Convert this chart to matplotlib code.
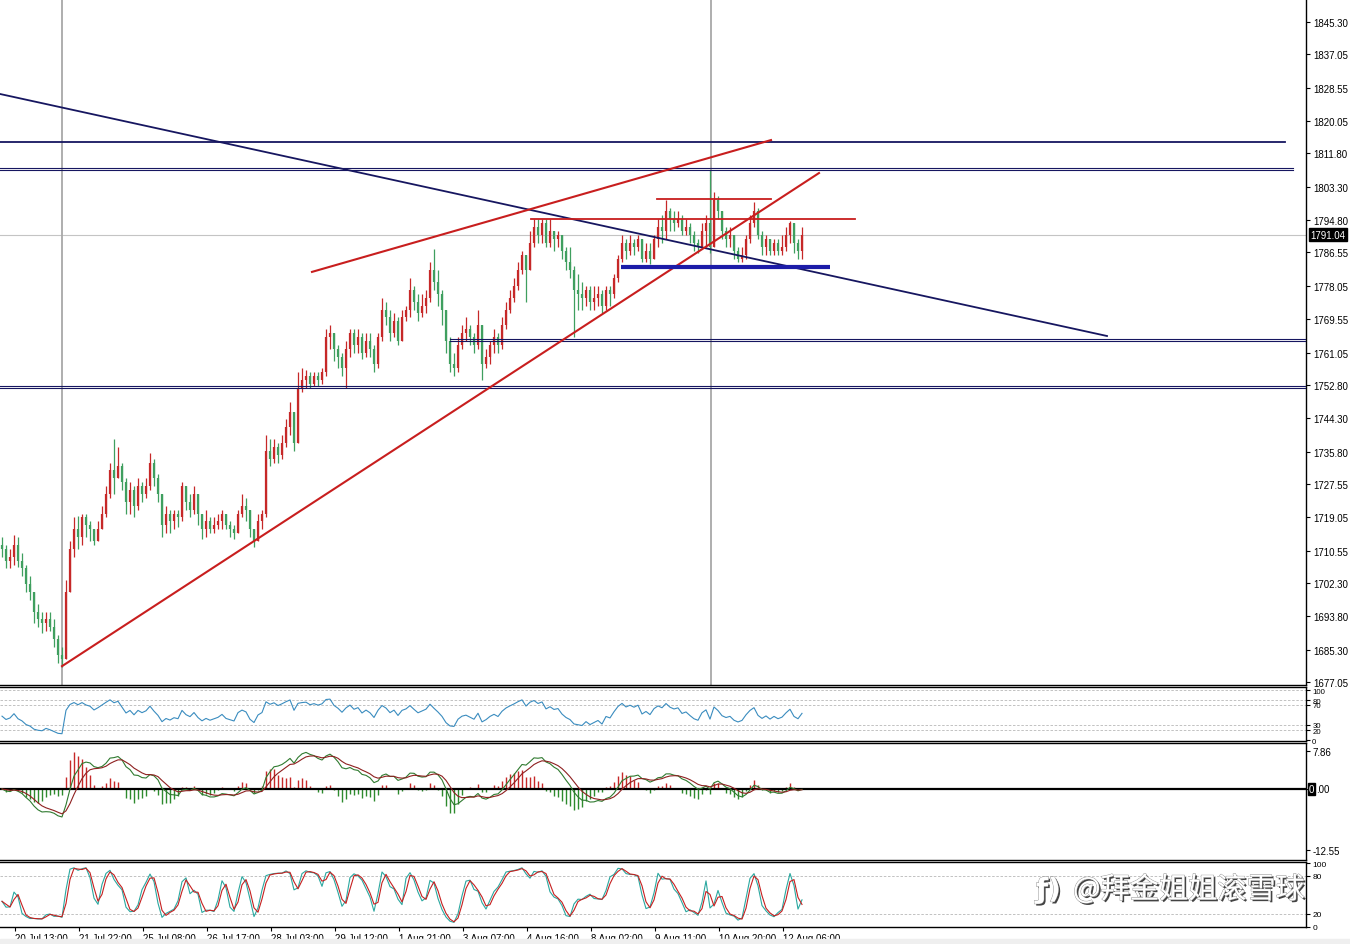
import numpy as np
import pandas as pd
import matplotlib
matplotlib.use("Agg")
import matplotlib.pyplot as plt
import matplotlib.patheffects as pe
from matplotlib.patches import Rectangle

plt.rcParams['font.family'] = ['Liberation Sans', 'Noto Sans CJK SC', 'DejaVu Sans']

# ---------------- data (2-hour bars) ----------------
first_open = 1712.0
closes = [
    1711, 1708, 1709, 1712, 1708, 1706, 1702, 1700, 1695, 1693,
    1692, 1693, 1691, 1688, 1684, 1683, 1700, 1711, 1716, 1714,
    1719, 1717, 1716, 1713, 1716, 1720, 1725, 1731, 1729, 1732,
    1728, 1723, 1726, 1722, 1727, 1725, 1727, 1733, 1729, 1725,
    1717, 1720, 1718, 1720, 1719, 1727, 1723, 1721, 1725, 1720,
    1716, 1718, 1716, 1717, 1718, 1720, 1717, 1716, 1715, 1720,
    1722, 1721, 1716, 1713, 1718, 1720, 1736, 1734, 1737, 1735,
    1738, 1742, 1746, 1738, 1752, 1754, 1755, 1753, 1755, 1754,
    1756, 1765, 1766, 1762, 1760, 1757, 1762, 1766, 1763, 1765,
    1761, 1764, 1762, 1758, 1765, 1772, 1770, 1766, 1769, 1764,
    1770, 1772, 1777, 1774, 1771, 1773, 1775, 1782, 1779, 1776,
    1772, 1764, 1758, 1757, 1763, 1766, 1767, 1765, 1763, 1768,
    1758, 1760, 1763, 1765, 1763, 1768, 1772, 1775, 1778, 1782,
    1786, 1782, 1789, 1793, 1791, 1794, 1789, 1792, 1790, 1791,
    1787, 1784, 1782, 1777, 1776, 1775, 1777, 1774, 1775, 1776,
    1773, 1777, 1776, 1780, 1785, 1789, 1787, 1789, 1788, 1790,
    1785, 1787, 1785, 1790, 1793, 1792, 1797, 1795, 1794, 1795,
    1792, 1793, 1791, 1789, 1788, 1792, 1794, 1788, 1800, 1797,
    1792, 1790, 1791, 1787, 1785, 1786, 1790, 1794, 1797, 1791,
    1788, 1790, 1787, 1789, 1787, 1788, 1791, 1794, 1789, 1787,
    1791.04,
]
highs = [
    1714, 1712, 1711, 1714.5, 1714, 1710, 1707, 1704, 1700, 1697,
    1695, 1695, 1695, 1693, 1689, 1686, 1703, 1713, 1719, 1719.5,
    1720, 1720, 1718, 1716, 1718, 1722, 1727, 1733, 1739, 1737,
    1733, 1729, 1728, 1727, 1729, 1728, 1729, 1735.5, 1734, 1730,
    1725, 1722, 1721, 1721, 1721, 1728, 1727, 1725, 1727, 1725,
    1720, 1721, 1719, 1719, 1720, 1721, 1719, 1718, 1717, 1721,
    1725, 1724, 1721, 1716, 1720, 1721, 1740, 1739, 1739, 1738,
    1740, 1744, 1748.5, 1746, 1756, 1757, 1756.5, 1756, 1756, 1756,
    1757, 1767, 1768, 1766, 1763, 1761, 1764, 1767, 1767, 1767,
    1766, 1766, 1766, 1763, 1766, 1775, 1774, 1772, 1771, 1770,
    1772, 1773, 1780, 1778, 1776, 1776, 1777, 1784, 1787.5, 1782,
    1777, 1771, 1765, 1761, 1765, 1768, 1770, 1768, 1766, 1772,
    1768, 1762, 1764, 1767, 1766, 1770, 1774, 1777, 1780, 1784,
    1787, 1786, 1792, 1795, 1795, 1795, 1795, 1795, 1792, 1792,
    1791, 1788, 1788, 1783, 1781, 1779, 1778, 1778, 1778, 1778,
    1777, 1778, 1778, 1781, 1786, 1791, 1790, 1791, 1790, 1791,
    1790, 1789, 1789, 1791, 1795, 1796, 1800, 1798, 1797, 1797,
    1796, 1795, 1794, 1792, 1790, 1794, 1796, 1807.5, 1802, 1801,
    1797, 1793, 1793, 1791, 1788, 1788, 1791, 1796, 1799.5, 1798,
    1792, 1791, 1790, 1790, 1790, 1791, 1793, 1794.5, 1793, 1790,
    1793,
]
lows = [
    1709, 1706, 1706, 1707, 1706.5, 1704, 1700, 1698, 1692, 1691,
    1689.5, 1690, 1690, 1686, 1682, 1681, 1683, 1700, 1709, 1711,
    1712, 1714, 1713, 1712, 1713, 1716, 1719, 1724, 1725, 1729,
    1726, 1720, 1720, 1719, 1721, 1723, 1724, 1726, 1727, 1723,
    1714, 1715, 1715, 1716, 1716.5, 1718, 1721, 1719, 1720, 1717,
    1713.5, 1714, 1715, 1715, 1716, 1716, 1716, 1714, 1713.5, 1715,
    1719, 1718, 1714, 1711.5, 1713, 1716, 1719, 1732, 1733, 1733,
    1734, 1737, 1740, 1736, 1738, 1751, 1752, 1752, 1752.5, 1752.5,
    1753, 1755, 1762, 1759, 1757, 1755, 1752, 1760, 1761, 1761,
    1759.5, 1760, 1760, 1756, 1757, 1764, 1768, 1764, 1765, 1763,
    1764, 1769, 1770, 1772, 1769, 1770, 1771, 1774, 1777, 1773,
    1768, 1761, 1756, 1755, 1756, 1762, 1764, 1763, 1761, 1762,
    1754, 1757, 1758, 1761, 1761, 1762, 1767, 1771, 1774, 1777,
    1781, 1774, 1782, 1788, 1789, 1789, 1788, 1788, 1787, 1788,
    1785, 1782, 1780, 1765, 1772, 1772, 1773, 1772, 1772, 1773,
    1771, 1772, 1773, 1775, 1779, 1784, 1785, 1786, 1786, 1787,
    1784, 1784, 1783.5, 1785, 1788, 1789, 1790, 1792, 1792, 1793,
    1791, 1791, 1789, 1787, 1786.5, 1788, 1788, 1786.5, 1790, 1795,
    1790, 1788, 1788, 1785, 1784, 1784, 1785, 1789, 1793, 1790,
    1786, 1786, 1786, 1786, 1786, 1786, 1787, 1789, 1786.5, 1785,
    1785,
]
last_price = 1791.04

price_ticks = [1845.30, 1837.05, 1828.55, 1820.05, 1811.80, 1803.30, 1794.80,
               1786.55, 1778.05, 1769.55, 1761.05, 1752.80, 1744.30, 1735.80,
               1727.55, 1719.05, 1710.55, 1702.30, 1693.80, 1685.30, 1677.05]
macd_ticks = [7.86, 0.0, -12.55]
rsi_levels = [100, 80, 70, 30, 20, 0]
stoch_levels = [100, 80, 20, 0]
date_labels = ["20 Jul 13:00", "21 Jul 22:00", "25 Jul 08:00", "26 Jul 17:00",
               "28 Jul 03:00", "29 Jul 12:00", "1 Aug 21:00", "3 Aug 07:00",
               "4 Aug 16:00", "8 Aug 02:00", "9 Aug 11:00", "10 Aug 20:00",
               "12 Aug 06:00"]
date_pos = [15, 79, 143, 207, 271, 335, 399, 463, 527, 591, 655, 719, 783]

# drawing objects (x in chart pixels, y in price)
navy_trend = [(0, 1826.95), (1107, 1765.26)]
red_upper = [(312, 1781.6), (771, 1815.2)]
red_lower = [(62, 1681.1), (819, 1806.8)]
red_hlines = [(1795.1, 531, 855), (1800.2, 657, 771)]
blue_support = (1782.85, 621, 830)
navy_single = (1814.7, 0, 1285)
navy_double = [(1807.85, 0, 1293), (1764.25, 450, 1306), (1752.25, 0, 1306)]
vlines_gray = [62, 711]

# ---------------- derived ----------------
c = np.array(closes, float)
h = np.array(highs, float)
l = np.array(lows, float)
o = np.concatenate([[first_open], c[:-1]])
h = np.maximum(h, np.maximum(o, c))
l = np.minimum(l, np.minimum(o, c))
n = len(c)
xs = 2 + 4 * np.arange(n)
up = c >= o
RED = '#c62828'
GRN = '#3f9f5f'
cols = [RED if u else GRN for u in up]

# RSI (Wilder, period 7 on 2-hour bars), seeded with neutral averages
chg = np.diff(np.concatenate([[first_open], c]))
seed = np.mean(np.abs(chg)) / 2
ru, rd = seed, seed
rsi = np.empty(n)
for i, ch in enumerate(chg):
    ru = (ru * 6 + max(ch, 0)) / 7
    rd = (rd * 6 + max(-ch, 0)) / 7
    rsi[i] = 100 - 100 / (1 + ru / rd) if rd > 0 else 100

cs = pd.Series(c)
ema_f = cs.ewm(span=6, adjust=False).mean()
ema_s = cs.ewm(span=13, adjust=False).mean()
dif = ema_f - ema_s
dea = dif.ewm(span=5, adjust=False).mean()
hist = 2 * (dif - dea)

hs, ls = pd.Series(h), pd.Series(l)
kp = 5
hh = hs.rolling(kp, min_periods=1).max()
ll = ls.rolling(kp, min_periods=1).min()
num = (cs - ll).rolling(2, min_periods=1).sum()
den = (hh - ll).rolling(2, min_periods=1).sum()
stk = (100 * num / den).fillna(50)
std = stk.rolling(2, min_periods=1).mean()

# ---------------- figure ----------------
W, H = 1350, 945
fig = plt.figure(figsize=(W / 100, H / 100), dpi=100)
fig.patch.set_facecolor('white')
fig.patches.append(Rectangle((0, 0), 1, 5 / H, transform=fig.transFigure,
                             color='#efefef', zorder=0))
R = 1306 / W

def add_ax(top_px, bot_px):
    return fig.add_axes([0, 1 - bot_px / H, R, (bot_px - top_px) / H])

ax = add_ax(0, 686)
axr = add_ax(688, 742)
axm = add_ax(744, 861)
axs = add_ax(863, 928)

TICKFS = 7.0
for a in (ax, axr, axm, axs):
    a.set_xlim(0, 1306)
    a.yaxis.tick_right()
    a.tick_params(axis='y', direction='out', length=3, width=0.8, pad=2,
                  labelsize=TICKFS, colors='black')
    a.tick_params(axis='x', length=0, labelbottom=False)
    for s in a.spines.values():
        s.set_color('black')
        s.set_linewidth(1.0)
    a.spines['left'].set_visible(False)
    a.set_facecolor('white')

ax.spines['top'].set_visible(False)

# main chart
ax.set_ylim(1676.3, 1851.16)
ax.set_yticks(price_ticks)
ax.set_yticklabels([f"{v:.2f}" for v in price_ticks])
ax.axhline(last_price, color='#c4c4c4', lw=0.8, zorder=1)
for vx in vlines_gray:
    ax.axvline(vx, color='#a8a8a8', lw=1.3, zorder=1)

ax.vlines(xs, l, h, colors=cols, lw=0.9, zorder=3)
ax.vlines(xs, np.minimum(o, c), np.maximum(o, c), colors=cols, lw=1.6, zorder=3)

NAVY = '#161660'
(x0, y0), (x1, y1) = navy_trend
ax.plot([x0, x1], [y0, y1], color=NAVY, lw=1.3, zorder=4)
yv, xa, xb = navy_single
ax.plot([xa, xb], [yv, yv], color=NAVY, lw=1.3, zorder=4)
for yv, xa, xb in navy_double:
    ax.plot([xa, xb], [yv + 0.26, yv + 0.26], color=NAVY, lw=0.8, zorder=4)
    ax.plot([xa, xb], [yv - 0.26, yv - 0.26], color=NAVY, lw=0.8, zorder=4)
REDL = '#c81e1e'
for (p0, p1) in (red_upper, red_lower):
    ax.plot([p0[0], p1[0]], [p0[1], p1[1]], color=REDL, lw=1.5, zorder=5)
for yv, xa, xb in red_hlines:
    ax.plot([xa, xb], [yv, yv], color=REDL, lw=1.3, zorder=5)
yv, xa, xb = blue_support
ax.plot([xa, xb], [yv, yv], color='#1c1ca8', lw=3.0, zorder=5,
        solid_capstyle='butt')

ax.annotate(f"{last_price:.2f}", xy=(1.0035, last_price),
            xycoords=('axes fraction', 'data'), ha='left', va='center',
            fontsize=TICKFS, color='white',
            bbox=dict(boxstyle='square,pad=0.15', fc='black', ec='black'))

# RSI
axr.set_ylim(-2, 106)
axr.set_yticks(rsi_levels)
axr.set_yticklabels([str(v) for v in rsi_levels])
axr.tick_params(axis='y', labelsize=5.6, pad=1.5)
for lv in (100, 80, 70, 30, 20):
    axr.axhline(lv, color='#b8b8b8', lw=0.6, ls=(0, (3, 2)), zorder=1)
axr.plot(xs, rsi, color='#3a8cbf', lw=0.8, zorder=3)

# MACD
axm.set_ylim(-14.7, 9.52)
axm.set_yticks(macd_ticks)
axm.set_yticklabels(['7.86', '', '-12.55'])
hcol = [RED if v >= 0 else '#2e8b2e' for v in hist]
axm.vlines(xs, 0, hist.values, colors=hcol, lw=1.0, zorder=2)
axm.axhline(0, color='black', lw=1.6, zorder=3)
axm.plot(xs, dif.values, color='#2f7a2f', lw=0.8, zorder=4)
axm.plot(xs, dea.values, color='#8e2020', lw=0.8, zorder=4)
axm.annotate("0", xy=(1.002, 0.0), xycoords=('axes fraction', 'data'),
             ha='left', va='center', fontsize=TICKFS, color='white',
             bbox=dict(boxstyle='square,pad=0.1', fc='black', ec='black'))
axm.annotate(".00", xy=(1.0078, 0.0), xycoords=('axes fraction', 'data'),
             ha='left', va='center', fontsize=TICKFS, color='black')

# Stochastic
axs.set_ylim(-0.5, 102)
axs.set_yticks(stoch_levels)
axs.set_yticklabels([str(v) for v in stoch_levels])
axs.tick_params(axis='y', labelsize=6.0, pad=1.5)
for lv in (80, 20):
    axs.axhline(lv, color='#b8b8b8', lw=0.6, ls=(0, (3, 2)), zorder=1)
axs.plot(xs, stk.values, color='#2aa8a0', lw=0.8, zorder=3)
axs.plot(xs, std.values, color='#c62020', lw=0.8, zorder=4)

axs.set_xticks(date_pos)
axs.set_xticklabels(date_labels)
axs.tick_params(axis='x', length=3, width=0.8, direction='out',
                labelbottom=True, labelsize=TICKFS, pad=1)
for t in axs.get_xticklabels():
    t.set_ha('left')

# watermark
eff = [pe.SimplePatchShadow(offset=(1.3, -1.3), shadow_rgbFace='#222222', alpha=0.85),
       pe.Stroke(linewidth=0.6, foreground='#8a8a8a'), pe.Normal()]
fig.text(1073 / W, 1 - 891 / H, "@拜金姐姐滚雪球", fontsize=21, color='white',
         family=['Noto Sans CJK SC', 'DejaVu Sans'], ha='left', va='center',
         path_effects=eff, zorder=20)
fig.text(1036 / W, 1 - 891 / H, "ƒ)", fontsize=20, color='white',
         family=['DejaVu Sans'], fontweight='bold', ha='left', va='center',
         path_effects=eff, zorder=20)

fig.savefig("out.png", dpi=100)
